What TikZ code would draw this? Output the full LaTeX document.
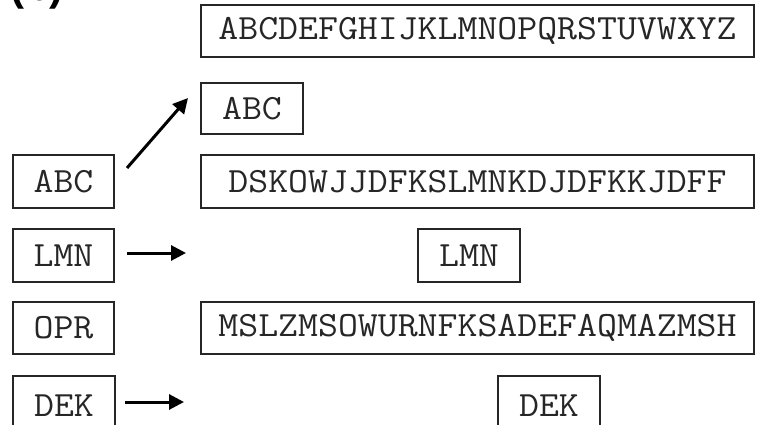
\documentclass[tikz,border=0pt]{standalone}
\usepackage{fontspec}
\setmainfont{Liberation Serif}
\newfontfamily\boxfont[FakeStretch=1.09]{Latin Modern Mono}
\newfontfamily\labfont{Liberation Sans}
\usetikzlibrary{arrows.meta}
\tikzset{
  seqbox/.style={draw=black!85, line width=2pt, inner sep=0pt, anchor=north west,
    font=\boxfont\fontsize{35.5}{38}\selectfont, text=black!85},
  arr/.style={line width=3pt, -{Triangle[length=15pt,width=15pt]}, black}
}
\begin{document}
\begin{tikzpicture}[x=1pt,y=-1pt]
\useasboundingbox (0,0) rectangle (757,425);
\clip (0,0) rectangle (757,425);
\fill[white] (0,0) rectangle (757,425);
% partially visible panel label
\node[anchor=base west, inner sep=0pt, font=\labfont\bfseries\fontsize{42}{44}\selectfont] (lab) at (10,0.5) {(b)};
% right column
\node[seqbox, minimum width=553pt, minimum height=52pt] (top) at (200,4) {ABCDEFGHIJKLMNOPQRSTUVWXYZ};
\node[seqbox, minimum width=102pt, minimum height=51pt] (abcR) at (200,82) {ABC};
\node[seqbox, minimum width=553pt, minimum height=53pt] (dsk) at (200,154) {DSKOWJJDFKSLMNKDJDFKKJDFF};
\node[seqbox, minimum width=102pt, minimum height=53pt] (lmnR) at (417,228) {LMN};
\node[seqbox, minimum width=553pt, minimum height=52pt] (msl) at (200,301) {MSLZMSOWURNFKSADEFAQMAZMSH};
\node[seqbox, minimum width=102pt, minimum height=60pt] (dekR) at (497,375) {DEK};
% left column
\node[seqbox, minimum width=101pt, minimum height=53pt] (abcL) at (12,154) {ABC};
\node[seqbox, minimum width=101pt, minimum height=53pt] (lmnL) at (12,228) {LMN};
\node[seqbox, minimum width=101pt, minimum height=52pt] (oprL) at (12,301) {OPR};
\node[seqbox, minimum width=102pt, minimum height=60pt] (dekL) at (12,375) {DEK};
% arrow end points
\coordinate (a1s) at (127,168);
\coordinate (a1e) at (188,98);
\coordinate (a2s) at (127,253);
\coordinate (a2e) at (186,253);
\coordinate (a3s) at (125,402);
\coordinate (a3e) at (184,402);
\draw[arr] (a1s) -- (a1e);
\draw[arr] (a2s) -- (a2e);
\draw[arr] (a3s) -- (a3e);
\end{tikzpicture}
\end{document}
